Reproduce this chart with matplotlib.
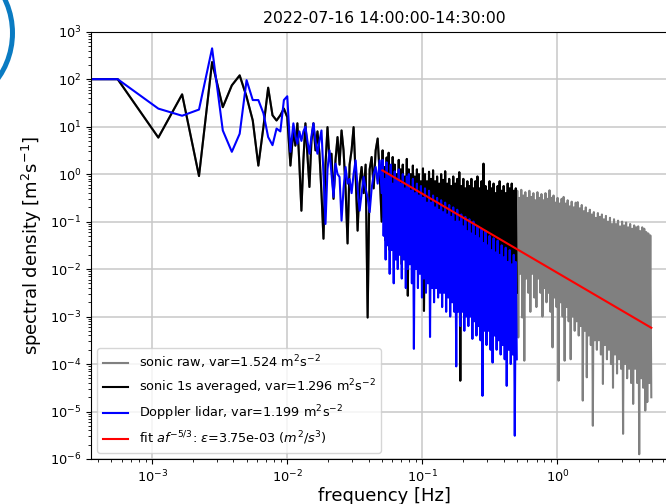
import numpy as np
import matplotlib.pyplot as plt
from matplotlib.patches import Ellipse

plt.rcParams["path.simplify"] = False   # keep every swing of the noisy spectra

# Spectra, stored as log10 of the spectral density [m2 s-1].
# Lowest bins are the FFT bins k/1800 Hz (30 min record), k = 0..19.
n_low = 20
sonic_avg_low = [2.0, 2.0, 0.77, 1.68, -0.04, 2.36, 1.41, 1.87, 2.08, 1.63,
                 1.13, 0.18, 1.0, 1.82, 1.24, 1.13, 1.24, 1.38, 1.2, 0.18]
lidar_low = [2.0, 2.0, 1.38, 1.23, 1.36, 2.65, 0.92, 0.47, 0.85, 1.98,
             1.56, 1.56, 1.28, 0.78, 0.61, 0.96, 0.9, 1.56, 1.64, 0.47]

# 0.011 - 0.05 Hz
sonic_avg_mid = [0.92, 0.6, 1.07, 0.2, -0.77, 0.3, 1.07, 0.4, -0.27, 0.7,
                 1.07, 0.5, 0.9, 0.43, -0.4, -1.36, 0.2, 0.99, 0.3, 0.43,
                 -0.52, 0.3, 0.78, 0.2, 0.92, 0.5, -0.3, -1.46, 0.2, 0.5,
                 0.99, 0.0, -1.19, -0.2, 0.15, -0.4, 0.2, -3.02, 0.1, 0.36,
                 -0.3, 0.5, 0.75, 0.0, -1.0]
lidar_mid = [1.07, 0.8, 0.64, 0.9, 0.7, 0.9, 1.0, 0.7, 0.43, 0.8,
             1.07, 0.7, 0.43, 0.7, 0.92, 0.0, -1.05, 0.1, 0.5, 0.0,
             -0.48, 0.22, 0.0, -0.06, -0.98, -0.3, 0.15, -0.2, -0.1, -0.4,
             0.0, 0.29, -0.3, -0.77, -0.4, -0.06, -0.3, -0.5, -0.8, -0.3,
             0.0, 0.15, -0.2, 0.29, -0.4]

# 0.05 - 0.5 Hz, dense part: upper and lower swings of the noisy spectrum
sonic_avg_top = [0.5, 0.15, 0.35, 0.45, 0.1, 0.36, 0.2, 0.0, 0.3, 0.1,
                 0.2, -0.05, 0.32, 0.1, 0.0, 0.18, -0.05, 0.1, 0.0, -0.15,
                 0.12, 0.0, -0.15, 0.05, -0.1, 0.08, -0.15, -0.05, -0.2, 0.0,
                 -0.12, 0.06, -0.2, -0.1, -0.25, -0.05, -0.2, -0.1, 0.04, -0.25,
                 -0.1, -0.3, -0.15, -0.25, -0.1, -0.3, -0.15, -0.05, -0.3, -0.15,
                 0.22, -0.25, -0.35, -0.15, -0.3, -0.2, -0.4, -0.25, -0.15, -0.35,
                 -0.25, -0.4, -0.2, -0.3, -0.2, -0.35, -0.3]
sonic_avg_bot = [-0.9, -1.4, -1.0, -1.6, -1.2, -1.5, -1.1, -1.7, -1.3, -1.9,
                 -1.4, -1.6, -2.56, -1.5, -1.8, -1.4, -1.9, -1.6, -2.0, -1.5,
                 -2.88, -1.7, -2.0, -1.6, -2.1, -1.8, -2.2, -1.7, -2.0, -2.3,
                 -1.8, -2.1, -1.9, -2.3, -2.0, -2.2, -1.9, -2.4, -4.35, -2.1,
                 -2.3, -2.0, -2.4, -2.1, -2.3, -2.0, -2.5, -2.2, -2.4, -2.1,
                 -2.6, -2.2, -2.4, -2.1, -2.5, -2.3, -2.6, -2.2, -2.5, -2.3,
                 -2.7, -2.4, -2.5, -2.2, -2.6, -2.4, -2.5]
lidar_top = [0.3, -0.1, 0.25, 0.0, 0.2, -0.2, 0.06, -0.1, 0.1, -0.2,
             0.0, -0.3, -0.05, 0.0, -0.35, -0.1, -0.4, -0.2, -0.45, -0.25,
             -0.5, -0.3, -0.6, -0.35, -0.6, -0.45, -0.7, -0.5, -0.75, -0.55,
             -0.8, -0.6, -0.85, -0.65, -0.9, -0.7, -1.0, -0.75, -1.0, -0.85,
             -1.1, -0.9, -1.2, -0.95, -1.25, -1.0, -1.3, -1.1, -1.35, -1.15,
             -1.45, -1.2, -1.5, -1.3, -1.6, -1.35, -1.65, -1.4, -1.7, -1.5,
             -1.75, -1.55, -1.85, -1.6, -1.9, -1.7, -1.85]
lidar_bot = [-1.3, -1.8, -1.5, -2.1, -1.6, -2.3, -1.8, -2.0, -1.7, -2.2,
             -1.8, -2.4, -2.0, -1.9, -2.3, -3.68, -2.0, -2.4, -2.1, -2.6,
             -2.2, -2.5, -2.3, -3.43, -2.4, -2.7, -2.4, -2.6, -2.5, -2.8,
             -2.5, -2.9, -2.6, -3.0, -2.7, -2.9, -4.05, -2.9, -3.2, -2.9,
             -3.3, -3.0, -3.2, -3.0, -3.47, -3.1, -3.4, -3.2, -3.5, -4.67,
             -3.3, -3.6, -3.3, -3.7, -3.97, -3.4, -3.7, -3.5, -3.8, -3.6,
             -3.9, -4.46, -3.7, -4.0, -3.8, -5.51, -3.9]

# raw sonic above 0.5 Hz (below 0.5 Hz it lies under the averaged spectrum)
sonic_raw_top = [-0.35, -0.5, -0.33, -0.45, -0.38, -0.5, -0.35, -0.48, -0.4, -0.55,
                 -0.38, -0.5, -0.42, -0.55, -0.4, -0.52, -0.34, -0.5, -0.45, -0.6,
                 -0.5, -0.62, -0.52, -0.48, -0.62, -0.55, -0.68, -0.58, -0.7, -0.6,
                 -0.59, -0.72, -0.65, -0.78, -0.7, -0.82, -0.75, -0.85, -0.8, -0.92,
                 -0.82, -0.9, -0.85, -0.95, -0.88, -1.0, -0.92, -1.05, -0.95, -1.05,
                 -0.98, -1.1, -1.0, -1.08, -1.02, -1.12, -1.05, -1.15, -1.08, -1.12,
                 -1.1, -1.2, -1.12, -1.15, -1.22, -1.25, -1.29]
sonic_raw_bot = [-3.44, -2.1, -3.02, -3.93, -2.2, -2.5, -2.9, -2.1, -2.6, -2.8,
                 -2.2, -2.5, -3.0, -2.4, -2.7, -2.5, -2.9, -3.65, -2.6, -2.8,
                 -4.35, -2.7, -3.0, -3.93, -2.8, -3.1, -3.9, -3.0, -3.3, -3.1,
                 -3.4, -3.2, -4.77, -3.3, -4.28, -3.4, -3.6, -5.3, -3.5, -3.7,
                 -3.5, -3.8, -4.42, -3.6, -3.9, -3.7, -4.0, -4.5, -3.8, -4.2,
                 -3.9, -4.1, -5.47, -4.0, -4.3, -4.1, -4.4, -4.84, -4.1, -4.4,
                 -5.9, -4.3, -4.5, -4.98, -4.8, -4.4, -4.7]

# -5/3 fit line end points
fit_f = [0.0506, 4.95]
fit_psd = [1.2, 5.8e-4]

title = "2022-07-16 14:00:00-14:30:00"
labels = [r"sonic raw, var=1.524 m$^2$s$^{-2}$",
          r"sonic 1s averaged, var=1.296 m$^2$s$^{-2}$",
          r"Doppler lidar, var=1.199 m$^2$s$^{-2}$",
          r"fit $af^{-5/3}$: $\epsilon$=3.75e-03 ($m^2/s^3$)"]


def zigzag(top, bot):
    # alternate upper and lower swings, as the raw periodogram does
    return np.column_stack([top, bot]).ravel()


f_low = np.arange(n_low) / 1800
f_mid = np.geomspace(0.0111, 0.05, len(sonic_avg_mid))
f_dense = np.geomspace(0.0508, 0.5, 2 * len(sonic_avg_top))
f_raw_hi = np.geomspace(0.504, 4.95, 2 * len(sonic_raw_top))

f_avg = np.concatenate([f_low, f_mid, f_dense])
psd_avg = 10 ** np.concatenate([sonic_avg_low, sonic_avg_mid, zigzag(sonic_avg_top, sonic_avg_bot)])
psd_lidar = 10 ** np.concatenate([lidar_low, lidar_mid, zigzag(lidar_top, lidar_bot)])
f_raw = np.concatenate([f_avg, f_raw_hi])
psd_raw = np.concatenate([psd_avg, 10 ** zigzag(sonic_raw_top, sonic_raw_bot)])

fig = plt.figure(figsize=(6.66, 5.04), dpi=100)
ax = fig.add_axes([0.1366, 0.0893, 0.8814, 0.8478])   # right side runs past the crop, as in the reference

ax.loglog(f_raw, psd_raw, color="gray", label=labels[0])
ax.loglog(f_avg, psd_avg, color="black", label=labels[1])
ax.loglog(f_avg, psd_lidar, color="blue", label=labels[2])
ax.loglog(fit_f, fit_psd, color="red", label=labels[3])

ax.set_ylim(1e-6, 1e3)
ax.grid(True, color="#c8c8c8", linewidth=1.1)
ax.set_title(title, fontsize=11.3)
ax.set_xlabel("frequency [Hz]", fontsize=13, labelpad=1)
ax.set_ylabel(r"spectral density [m$^2$s$^{-1}$]", fontsize=13)
ax.tick_params(labelsize=9.3)
ax.legend(loc="lower left", fontsize=9.3)

# part of a blue ring left in the top corner of the screenshot
fig.add_artist(Ellipse((-0.0991, 0.9345), 0.2357, 0.3115, fill=False,
                       edgecolor="#0a7bc2", linewidth=3.6, transform=fig.transFigure))

fig.savefig("out.png", dpi=100)
